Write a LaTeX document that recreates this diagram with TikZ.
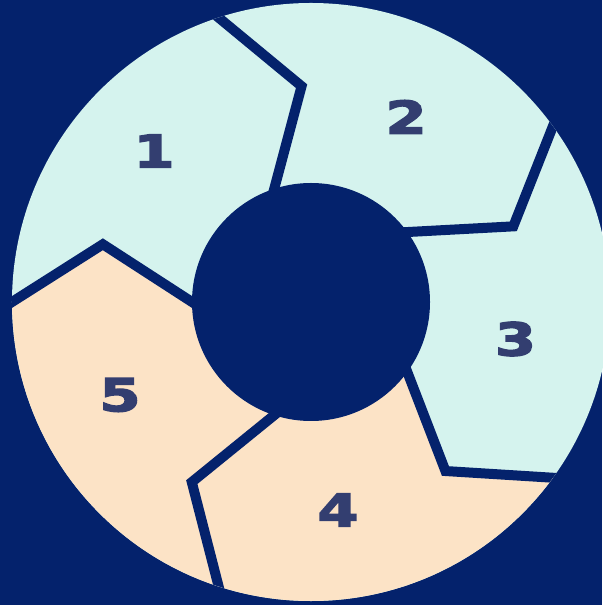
\documentclass[tikz,border=0pt]{standalone}
\usepackage{fontspec}
\usetikzlibrary{calc}
\newfontfamily\numfont{DejaVu Sans}[BoldFeatures={FakeBold=3}]
\definecolor{navy}{HTML}{04226C}
\definecolor{mint}{HTML}{D5F3EE}
\definecolor{peach}{HTML}{FCE3C6}
\definecolor{numcol}{HTML}{333E70}
\tikzset{
  sepline/.style={draw=navy, line width=7.5pt, line join=miter},
  num/.style={text=numcol, font=\numfont\bfseries\fontsize{34}{34}\selectfont, xscale=1.3, inner sep=0pt}
}
\begin{document}
\begin{tikzpicture}[x=0.75pt,y=0.75pt]
\fill[navy] (-311,-303) rectangle (291,302);
\useasboundingbox (-311,-303) rectangle (291,302);
\foreach \a/\n in {180/a, 108/b, 36/c, -36/d, -108/e}{
  \coordinate (o\n) at (\a:299);
  \coordinate (k\n) at ({\a-15.5}:216);
  \coordinate (i\n) at (\a:119);
}
\fill[mint] (0,0) circle (299);
\begin{scope}
  \clip (0,0) circle (299);
  \fill[peach] (0,0) -- (id) -- (kd) -- ($(kd)!1.5!(od)$) -- (-90:400) -- (-144:400) -- ($(ka)!1.5!(oa)$) -- (ka) -- (ia) -- cycle;
  \foreach \n in {a,b,c,d,e}{
    \draw[sepline] ($(k\n)!1.3!(o\n)$) -- (k\n) -- ($(k\n)!1.2!(i\n)$);
  }
\end{scope}
\fill[navy] (0,0) circle (119);
\node[num] (n1) at (-157,151) {1};
\node[num] (n2) at (95,185) {2};
\node[num] (n3) at (204.5,-37) {3};
\node[num] (n4) at (27,-208) {4};
\node[num] (n5) at (-191,-93) {5};
\end{tikzpicture}
\end{document}
